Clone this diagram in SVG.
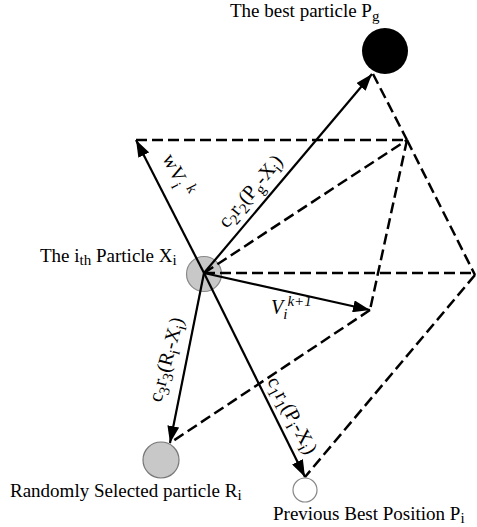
<svg xmlns="http://www.w3.org/2000/svg" width="477" height="527" viewBox="0 0 477 527">
<style>
text{font-family:"Liberation Serif","Times New Roman",serif;fill:#000}
.lbl{font-size:19px}
.rl{font-size:20px}
.sub{font-size:15px}
.arr{stroke:#000;stroke-width:2.2;fill:none;marker-end:url(#ah)}
.dash{stroke:#000;stroke-width:2.5;fill:none;stroke-dasharray:11 5}
</style>
<defs>
<marker id="ah" markerUnits="userSpaceOnUse" markerWidth="18" markerHeight="12" refX="17" refY="6" orient="auto">
<path d="M0,0 L17,6 L0,12 z" fill="#000"/>
</marker>
</defs>
<rect width="477" height="527" fill="#fff"/>
<g id="node-Pg">
<circle cx="385" cy="51" r="23" fill="#000"/>
<text class="lbl" x="230" y="17">The best particle P<tspan class="sub" dy="4">g</tspan></text>
</g>
<g id="node-Xi">
<circle cx="204" cy="274" r="17.5" fill="#c8c8c8" stroke="#8a8a8a" stroke-width="1.2"/>
<text class="lbl" x="40" y="262">The i<tspan class="sub" dy="3">th</tspan><tspan dy="-3"> Particle X</tspan><tspan class="sub" dy="3">i</tspan></text>
</g>
<g id="node-Ri">
<circle cx="161" cy="460" r="18" fill="#c8c8c8" stroke="#777" stroke-width="1.2"/>
<text class="lbl" x="10" y="497">Randomly Selected particle R<tspan class="sub" dy="3">i</tspan></text>
</g>
<g id="node-Pi">
<circle cx="305" cy="490" r="12" fill="#fff" stroke="#888" stroke-width="1.2"/>
<text class="lbl" x="273" y="520">Previous Best Position P<tspan class="sub" dy="3">i</tspan></text>
</g>
<g id="connectors">
<line class="dash" x1="136" y1="140" x2="407" y2="140"/>
<line class="dash" x1="373" y1="74" x2="407" y2="140"/>
<line class="dash" x1="407" y1="140" x2="475" y2="275"/>
<line class="dash" x1="407" y1="140" x2="370" y2="310"/>
<line class="dash" x1="204" y1="273" x2="407" y2="140"/>
<line class="dash" x1="204" y1="273" x2="475" y2="273"/>
<line class="dash" x1="370" y1="310" x2="170" y2="443"/>
<line class="dash" x1="475" y1="275" x2="305" y2="477"/>
<line class="arr" x1="204" y1="273" x2="136" y2="140"/>
<line class="arr" x1="204" y1="273" x2="372" y2="74"/>
<line class="arr" x1="204" y1="273" x2="370" y2="310"/>
<line class="arr" x1="204" y1="273" x2="170" y2="443"/>
<line class="arr" x1="204" y1="273" x2="305" y2="477"/>
<text class="rl" transform="translate(162,158) rotate(63)">wV<tspan class="sub" dy="5">i</tspan><tspan class="sub" dx="4" dy="-13">k</tspan></text>
<text class="rl" transform="translate(227,229) rotate(-50)">c<tspan class="sub" dy="5">2</tspan><tspan dy="-5">r</tspan><tspan class="sub" dy="5">2</tspan><tspan dy="-5">(P</tspan><tspan class="sub" dy="5">g</tspan><tspan dy="-5">-X</tspan><tspan class="sub" dy="5">i</tspan><tspan dy="-5">)</tspan></text>
<text class="rl" transform="translate(161,403) rotate(-75)">c<tspan class="sub" dy="5">3</tspan><tspan dy="-5">r</tspan><tspan class="sub" dy="5">3</tspan><tspan dy="-5">(R</tspan><tspan class="sub" dy="5">i</tspan><tspan dy="-5">-X</tspan><tspan class="sub" dy="5">i</tspan><tspan dy="-5">)</tspan></text>
<text class="rl" transform="translate(267,381) rotate(62)">c<tspan class="sub" dy="5">1</tspan><tspan dy="-5">r</tspan><tspan class="sub" dy="5">1</tspan><tspan dy="-5">(P</tspan><tspan class="sub" dy="5">i</tspan><tspan dy="-5">-X</tspan><tspan class="sub" dy="5">i</tspan><tspan dy="-5">)</tspan></text>
<text class="rl" x="271" y="314" font-style="italic">V<tspan class="sub" dy="5">i</tspan><tspan class="sub" dy="-13">k+1</tspan></text>
</g>
</svg>
